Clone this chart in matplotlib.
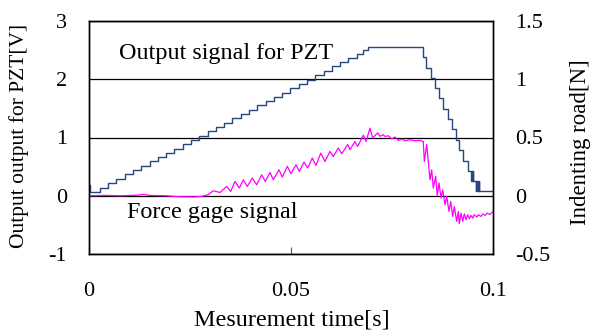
import matplotlib
matplotlib.use("Agg")
import matplotlib.pyplot as plt

plt.rcParams['font.family'] = ['Liberation Serif', 'DejaVu Serif']

# ---- PZT output signal (left axis, V): step start times and levels ----
pzt_t = [0.0, 0.0003,
         0.0027, 0.00475, 0.0068, 0.00885, 0.0109, 0.01295, 0.0150, 0.01705,
         0.0191, 0.02115, 0.0232, 0.02525, 0.0273, 0.02935, 0.0314, 0.03345,
         0.0355, 0.03755, 0.0396, 0.04165, 0.0437, 0.04575, 0.0478, 0.04985,
         0.0519, 0.05395, 0.0560, 0.05805, 0.0601, 0.06215, 0.0642, 0.06625,
         0.0677, 0.0691,
         0.0826, 0.08342, 0.08465, 0.08564, 0.08671, 0.0877, 0.08879, 0.08978,
         0.09077, 0.09166, 0.09265, 0.09374,
         0.0946, 0.0948, 0.09485, 0.0951, 0.09515,
         0.0957, 0.0959, 0.09595, 0.0962, 0.09625, 0.0965, 0.09655, 0.1]
pzt_v = [0.19, 0.07,
         0.14, 0.22, 0.29, 0.37, 0.44, 0.51, 0.59, 0.66,
         0.74, 0.81, 0.88, 0.96, 1.03, 1.11, 1.18, 1.25,
         1.33, 1.40, 1.48, 1.55, 1.62, 1.70, 1.77, 1.85,
         1.92, 1.99, 2.07, 2.14, 2.22, 2.29, 2.36, 2.44,
         2.50, 2.56,
         2.38, 2.20, 2.02, 1.85, 1.68, 1.49, 1.32, 1.15,
         0.96, 0.78, 0.60, 0.42,
         0.25, 0.42, 0.25, 0.42, 0.25,
         0.09, 0.25, 0.09, 0.25, 0.09, 0.25, 0.08, 0.08]

# ---- Force gage signal (right axis, N) ----
force_t = [0.0, 0.004, 0.008, 0.012, 0.0135, 0.015, 0.019, 0.022, 0.026, 0.028,
           0.0295, 0.03077, 0.03243, 0.03408, 0.03507, 0.03614, 0.03720, 0.03819,
           0.03918, 0.04042, 0.04151, 0.04275, 0.04364, 0.04480, 0.04562, 0.04703,
           0.04785, 0.04908, 0.05000, 0.05124, 0.05205, 0.05322, 0.05413, 0.05527,
           0.05619, 0.05735, 0.05842, 0.05965, 0.06047, 0.06171, 0.06255, 0.06403,
           0.06460, 0.06584, 0.06651, 0.06790, 0.06856, 0.06955, 0.07022, 0.07146,
           0.07203, 0.07285, 0.07327, 0.07409, 0.07493, 0.07574, 0.07656, 0.07740,
           0.07822, 0.07946, 0.08069, 0.08193, 0.08275,
           0.08300, 0.08359, 0.08441, 0.08483, 0.08522, 0.08582, 0.08621, 0.08663,
           0.08713, 0.08755, 0.08812, 0.08854, 0.08911, 0.08953, 0.09002, 0.09042,
           0.09101, 0.09141, 0.09166, 0.09208, 0.09250, 0.09290, 0.09332, 0.09374,
           0.09413, 0.09455, 0.09498, 0.09537, 0.09597, 0.09636, 0.09696, 0.09745,
           0.09802, 0.09859, 0.09926, 0.09993]
force_n = [0.0, 0.003, 0.0, 0.005, 0.012, 0.003, 0.0, -0.008, -0.01, -0.005,
           0.009, 0.043, 0.028, 0.08, 0.037, 0.123, 0.066, 0.137,
           0.08, 0.152, 0.094, 0.18, 0.123, 0.20, 0.137, 0.223,
           0.16, 0.252, 0.189, 0.266, 0.209, 0.289, 0.238, 0.324,
           0.26, 0.366, 0.294, 0.38, 0.337, 0.41, 0.36, 0.44,
           0.395, 0.466, 0.423, 0.52, 0.466, 0.58, 0.495, 0.54,
           0.51, 0.524, 0.509, 0.515, 0.487, 0.504, 0.475, 0.487,
           0.472, 0.48, 0.472, 0.475, 0.466,
           0.294, 0.44, 0.137, 0.223, 0.066, 0.166, 0.0, 0.11,
           -0.02, 0.05, -0.077, -0.006, -0.135, -0.049, -0.178, -0.092,
           -0.22, -0.135, -0.24, -0.149, -0.22, -0.155, -0.206, -0.163,
           -0.197, -0.169, -0.192, -0.163, -0.183, -0.163, -0.178, -0.157,
           -0.169, -0.149, -0.16, -0.137]

x_ticks = [0, 0.05, 0.1]
x_ticklabels = ['0', '0.05', '0.1']
left_ticks = [-1, 0, 1, 2, 3]
left_ticklabels = ['-1', '0', '1', '2', '3']
right_ticks = [-0.5, 0, 0.5, 1, 1.5]
right_ticklabels = ['-0.5', '0', '0.5', '1', '1.5']

FS = 16
FS_BIG = 17.4

fig = plt.figure(figsize=(5.97, 3.31), dpi=100)
ax = fig.add_axes([89/597, 1-254/331, 404/597, 233/331])
ax2 = ax.twinx()

ax.set_xlim(0, 0.1)
ax.set_ylim(-1, 3)
ax2.set_ylim(-0.5, 1.5)

ax.set_yticks(left_ticks)
ax.set_yticklabels(left_ticklabels, fontsize=FS)
ax2.set_yticks(right_ticks)
ax2.set_yticklabels(right_ticklabels, fontsize=FS)
ax.set_xticks(x_ticks)
ax.set_xticklabels(x_ticklabels, fontsize=FS)

ax.grid(axis='y', color='black', linewidth=0.9)
ax.set_axisbelow(True)

ax.plot(pzt_t, pzt_v, drawstyle='steps-post', color='#27477f', linewidth=1.0)
ax2.plot(force_t, force_n, color='#ff00ff', linewidth=0.9)

ax.tick_params(axis='x', direction='in', length=5, pad=20, color='#555555')
ax.tick_params(axis='y', length=0, pad=16)
ax2.tick_params(axis='y', length=0, pad=16)

for a in (ax, ax2):
    for s in a.spines.values():
        s.set_color('black')
        s.set_linewidth(1.0)

ax.set_xlabel('Mesurement time[s]', fontsize=FS_BIG)
ax.xaxis.set_label_coords(0.501, -0.24)
ax.set_ylabel('Output output for PZT[V]', fontsize=15.5)
ax.yaxis.set_label_coords(-0.1485, 0.505)
ax2.set_ylabel('Indenting road[N]', fontsize=16.5)
ax2.yaxis.set_label_coords(1.19, 0.48)

ax.text(0.0074, 2.45, 'Output signal for PZT', fontsize=FS_BIG, va='center', ha='left')
ax.text(0.0094, -0.29, 'Force gage signal', fontsize=FS_BIG, va='center', ha='left')

fig.savefig('out.png', dpi=100)
